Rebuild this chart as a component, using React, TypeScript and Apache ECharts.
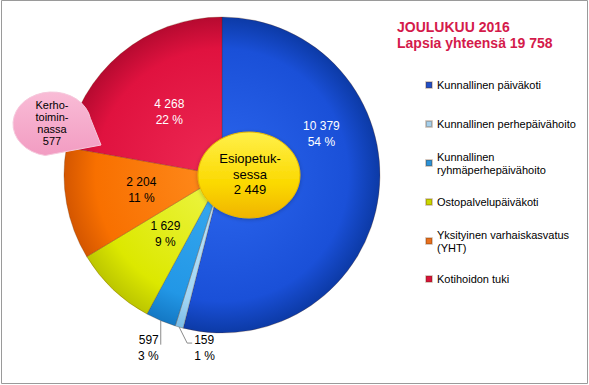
import React, { useEffect, useRef } from "react";
import * as echarts from "echarts";

const categories = [
  "Kunnallinen päiväkoti",
  "Kunnallinen perhepäivähoito",
  "Kunnallinen ryhmäperhepäivähoito",
  "Ostopalvelupäiväkoti",
  "Yksityinen varhaiskasvatus (YHT)",
  "Kotihoidon tuki",
];
const legendLabels = [
  "Kunnallinen päiväkoti",
  "Kunnallinen perhepäivähoito",
  "Kunnallinen\nryhmäperhepäivähoito",
  "Ostopalvelupäiväkoti",
  "Yksityinen varhaiskasvatus\n(YHT)",
  "Kotihoidon tuki",
];
const values = [10379, 159, 597, 1629, 2204, 4268];
const percentLabels = ["54 %", "1 %", "3 %", "9 %", "11 %", "22 %"];
const titleLines = ["JOULUKUU 2016", "Lapsia yhteensä 19 758"];
const insetLabels = ["Esiopetuk-\nsessa", "Kerho-\ntoimin-\nnassa"];
const insetValues = [2449, 577];

const FONT = "'Liberation Sans', Arial, sans-serif";
const CX = 222;
const CY = 175;
const R = 158;

// [light, main, dark]
const sliceColors = [
  ["#2c66ee", "#1a50d8", "#0c3aa6"],
  ["#bde4fa", "#a3d6f5", "#7cbde6"],
  ["#3aaaf0", "#2297e6", "#1478c4"],
  ["#eef64a", "#dce800", "#bcc600"],
  ["#ff8c1e", "#f87000", "#d45600"],
  ["#ee2a55", "#e0123f", "#b60a30"],
];
const legendColors = ["#1f4fc8", "#a6d0ec", "#2a92d8", "#c9d800", "#e8701e", "#d8123c"];
const labelColors = ["#fff", "#000", "#000", "#000", "#000", "#fff"];

const fmt = (n: number) => String(n).replace(/\B(?=(\d{3})+(?!\d))/g, " ");

const legendCenters = [85, 124, 163, 202, 241, 279];

export default function App() {
  const ref = useRef<HTMLDivElement>(null);
  useEffect(() => {
    if (!ref.current) return;
    const d = "M -6.8 31.5 A 39 32 0 1 1 38.4 -5.6 L 49 21 Z";
    try {
      echarts.graphic.registerShape("kerho", echarts.graphic.extendPath(d, {}) as any);
    } catch (e) {}
    const chart = echarts.init(ref.current, null, { renderer: "svg" });

    const data = values.map((v, i) => {
      const [light, main, dark] = sliceColors[i];
      const small = i === 1 || i === 2;
      return {
        name: categories[i],
        value: v,
        itemStyle: {
          color: {
            type: "radial",
            x: CX,
            y: CY,
            r: R,
            global: true,
            colorStops: [
              { offset: 0, color: light },
              { offset: 0.8, color: main },
              { offset: 1, color: dark },
            ],
          },
        },
        label: {
          position: small ? "outside" : "inside",
          color: labelColors[i],
        },
        labelLine: {
          show: small,
          lineStyle: { color: "#8a8a8a", width: 1 },
        },
      };
    });

    const legends = categories.map((name, i) => {
      const multi = legendLabels[i].includes("\n");
      return {
        data: [{ name, itemStyle: { color: legendColors[i] } }],
        left: 425,
        top: legendCenters[i] - (multi ? 19.5 : 6.5),
        padding: 0,
        orient: "vertical",
        icon: "rect",
        itemWidth: 6,
        itemHeight: 6,
        selectedMode: false,
        formatter: () => legendLabels[i],
        textStyle: {
          fontFamily: FONT,
          fontSize: 11,
          lineHeight: 13,
          color: "#000",
          padding: multi ? [13, 0, 0, 0] : 0,
        },
      };
    });

    chart.setOption({
      animation: false,
      backgroundColor: "#fff",
      title: {
        text: titleLines.join("\n"),
        left: 397,
        top: 19,
        padding: 0,
        textStyle: {
          fontFamily: FONT,
          fontSize: 14,
          fontWeight: "bold",
          lineHeight: 16,
          color: "#d41a4b",
        },
      },
      legend: legends,
      series: [
        {
          type: "pie",
          center: [CX, CY],
          radius: R,
          startAngle: 90,
          clockwise: true,
          avoidLabelOverlap: false,
          minShowLabelAngle: 0,
          itemStyle: { borderColor: "rgba(90,40,0,0.25)", borderWidth: 1 },
          label: {
            fontFamily: FONT,
            fontSize: 12,
            lineHeight: 16,
            formatter: (p: any) => fmt(p.value) + "\n" + percentLabels[p.dataIndex],
          },
          labelLayout: (p: any) => {
            if (p.dataIndex === 0) return { dx: 18, dy: -51 };
            const pts = p.labelLinePoints;
            if (!pts || !pts[0]) return {};
            const [x0, y0] = pts[0];
            if (p.dataIndex === 2) {
              return {
                x: x0 - 2,
                y: y0 + 27,
                align: "right",
                verticalAlign: "middle",
                labelLinePoints: [
                  [x0, y0],
                  [x0, y0 + 24],
                  [x0, y0 + 24],
                ],
              };
            }
            if (p.dataIndex === 1) {
              return {
                x: x0 + 15,
                y: y0 + 21,
                align: "left",
                verticalAlign: "middle",
                labelLinePoints: [
                  [x0, y0],
                  [x0 + 8, y0 + 16],
                  [x0 + 13, y0 + 16],
                ],
              };
            }
            return {};
          },
          data,
        },
      ],
      graphic: [
        {
          type: "rect",
          z: 0,
          silent: true,
          shape: { x: 1.5, y: 0.5, width: 586, height: 383 },
          style: { fill: "none", stroke: "#9a9a9a", lineWidth: 1 },
        },
        {
          type: "ellipse",
          z: 100,
          shape: { cx: 249, cy: 175, rx: 51, ry: 43 },
          style: {
            fill: {
              type: "linear",
              x: 0,
              y: 0,
              x2: 0,
              y2: 1,
              colorStops: [
                { offset: 0, color: "#fff04a" },
                { offset: 0.6, color: "#fbd900" },
                { offset: 1, color: "#f0b400" },
              ],
            },
            stroke: "#e8b800",
            lineWidth: 1,
            shadowBlur: 4,
            shadowColor: "rgba(0,0,0,0.25)",
            shadowOffsetY: 1,
          },
        },
        {
          type: "text",
          z: 101,
          x: 250,
          y: 174,
          style: {
            text: insetLabels[0] + "\n" + fmt(insetValues[0]),
            fontFamily: FONT,
            fontSize: 13,
            lineHeight: 15.5,
            fill: "#000",
            align: "center",
            verticalAlign: "middle",
          },
        },
        {
          type: "kerho",
          z: 100,
          x: 52,
          y: 124,
          style: {
            fill: {
              type: "linear",
              x: 0,
              y: 0,
              x2: 0,
              y2: 1,
              colorStops: [
                { offset: 0, color: "#f9bcd6" },
                { offset: 1, color: "#f29cc2" },
              ],
            },
            stroke: "#f6c8dc",
            lineWidth: 1,
          },
        },
        {
          type: "text",
          z: 101,
          x: 52,
          y: 123,
          style: {
            text: insetLabels[1] + "\n" + fmt(insetValues[1]),
            fontFamily: FONT,
            fontSize: 11,
            lineHeight: 12,
            fill: "#000",
            align: "center",
            verticalAlign: "middle",
          },
        },
      ],
    });
    return () => chart.dispose();
  }, []);
  return (
    <div
      ref={ref}
      style={{ position: "fixed", left: 0, top: 0, width: 589, height: 385 }}
    />
  );
}
